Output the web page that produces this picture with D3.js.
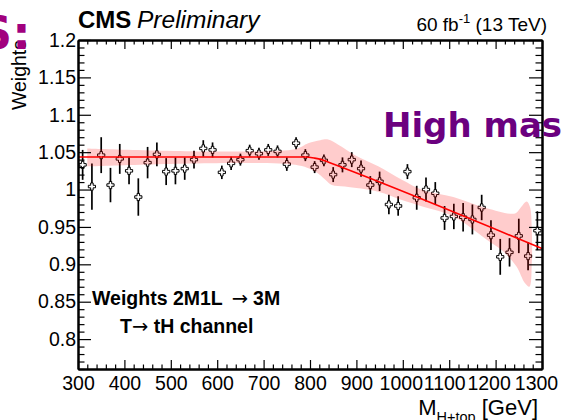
<!DOCTYPE html>
<html>
<head>
<meta charset="utf-8">
<script src="https://cdn.jsdelivr.net/npm/d3@7/dist/d3.min.js"></script>
<style>
  html, body { margin: 0; padding: 0; background: #fff; }
  svg { display: block; }
</style>
</head>
<body>
<svg id="chart" width="563" height="420"></svg>
<script>
// ---------- data ----------
const massBins = [310,330,350,370,390,410,430,450,470,490,510,530,550,570,590,610,630,650,670,690,
                  710,730,750,770,790,810,830,850,870,890,910,930,950,970,990,1010,1030,1050,1070,1090,
                  1110,1130,1150,1170,1190,1210,1230,1250,1270,1290];
const weights = [1.033,1.004,1.046,1.006,1.041,1.025,0.990,1.036,1.047,1.024,
                 1.025,1.028,1.040,1.055,1.053,1.023,1.035,1.040,1.052,1.048,
                 1.053,1.051,1.034,1.062,1.046,1.030,1.039,1.020,1.033,1.040,
                 1.028,1.006,1.011,0.980,0.978,1.024,0.989,1.000,0.995,0.962,
                 0.964,0.963,0.960,0.976,0.939,0.910,0.916,0.938,0.911,0.945];
const weightErrors = [0.020,0.031,0.024,0.023,0.020,0.018,0.025,0.021,0.016,0.018,
                      0.018,0.015,0.012,0.011,0.010,0.009,0.009,0.008,0.008,0.008,
                      0.008,0.008,0.009,0.008,0.008,0.008,0.008,0.010,0.010,0.010,
                      0.011,0.012,0.013,0.013,0.013,0.010,0.016,0.016,0.015,0.016,
                      0.017,0.019,0.020,0.017,0.020,0.024,0.019,0.023,0.019,0.026];
// fit curve
const fitMass = [300, 790, 810, 825, 840, 1300];
const fitWeight = [1.0435, 1.0435, 1.042, 1.040, 1.0365, 0.921];
// uncertainty band edges
const bandUpMass = [320, 767, 796, 822, 839, 861, 897, 947, 998, 1044, 1109, 1181, 1242, 1253, 1267, 1274, 1278, 1278, 1273];
const bandUpWeight = [1.055,1.054,1.062,1.066,1.067,1.060,1.046,1.031,1.013,0.999,0.990,0.975,0.968,0.975,0.984,0.977,0.946,0.901,0.870];
const bandLoMass = [320, 768, 811, 833, 847, 875, 947, 998, 1044, 1109, 1181, 1217, 1245, 1263];
const bandLoWeight = [1.031,1.033,1.024,1.013,1.006,1.004,0.997,0.986,0.977,0.964,0.933,0.917,0.897,0.875];
// axis ticks
const xMajorTicks = [300,400,500,600,700,800,900,1000,1100,1200,1300];
const xTickLabels = ["300","400","500","600","700","800","900","1000","1100","1200","1300"];
const yMajorTicks = [0.8,0.85,0.9,0.95,1.0,1.05,1.1,1.15,1.2];
const yTickLabels = ["0.8","0.85","0.9","0.95","1","1.05","1.1","1.15","1.2"];

// ---------- layout ----------
const SANS = "'Liberation Sans', Arial, Helvetica, sans-serif";
const VERD = "'DejaVu Sans', Verdana, sans-serif";
const L = 78, R = 542, T = 40, B = 369;
const svg = d3.select("#chart").style("font-family", SANS);
const x = d3.scaleLinear().domain([300, 1300]).range([L, R]);
const y = d3.scaleLinear().domain([0.76, 1.2]).range([B, T]);

// minor ticks
const xMinor = d3.range(300, 1300.01, 20).filter(v => !xMajorTicks.includes(Math.round(v)));
const yMinor = d3.range(0, 45).map(i => +(0.76 + i * 0.01).toFixed(2)).filter(v => !yMajorTicks.some(m => Math.abs(m - v) < 1e-6));

// ---------- data points ----------
const pts = svg.append("g");
pts.selectAll("line.err").data(massBins).enter().append("line")
  .attr("x1", (d) => x(d)).attr("x2", (d) => x(d))
  .attr("y1", (d, i) => y(weights[i] - weightErrors[i]))
  .attr("y2", (d, i) => y(weights[i] + weightErrors[i]))
  .attr("stroke", "#000").attr("stroke-width", 1.7);
const a = 3.6, w = 1.25;
const cross = `M${-w},${-a}H${w}V${-w}H${a}V${w}H${w}V${a}H${-w}V${w}H${-a}V${-w}H${-w}Z`;
pts.selectAll("path.mk").data(massBins).enter().append("path")
  .attr("d", cross)
  .attr("transform", (d, i) => `translate(${x(d)},${y(weights[i])})`)
  .attr("fill", "#fff").attr("stroke", "#000").attr("stroke-width", 1);

// ---------- band ----------
const bandPts = bandUpMass.map((m, i) => [x(m), y(bandUpWeight[i])])
  .concat(bandLoMass.map((m, i) => [x(m), y(bandLoWeight[i])]).reverse());
svg.append("path")
  .attr("d", d3.line().curve(d3.curveCatmullRom.alpha(0.5))(bandPts) + "Z")
  .attr("fill", "#ff0000").attr("fill-opacity", 0.2).attr("stroke", "none");

// ---------- fit line ----------
svg.append("path")
  .attr("d", d3.line().curve(d3.curveMonotoneX)(fitMass.map((m, i) => [x(m), y(fitWeight[i])])))
  .attr("fill", "none").attr("stroke", "#ff0000").attr("stroke-width", 1.6);

// ---------- axes ----------
function styleAxis(g) {
  g.selectAll("path.domain").attr("stroke", "#000").attr("stroke-width", 2);
  g.selectAll(".tick line").attr("stroke", "#000").attr("stroke-width", 1.2);
  g.selectAll("text").style("font-family", SANS).style("font-size", "19.5px").attr("fill", "#000");
}
// label nudges reproducing the tight packing of the 4-digit labels
const xLabelShift = [0, 0, 0, 0, 0, 0, 0, -2, -5, -7, -6];
// bottom
svg.append("g").attr("transform", `translate(0,${B})`)
  .call(d3.axisBottom(x).tickValues(xMinor).tickSize(-4.5).tickSizeOuter(0).tickFormat(""))
  .call(styleAxis);
svg.append("g").attr("transform", `translate(0,${B})`)
  .call(d3.axisBottom(x).tickValues(xMajorTicks).tickSize(-9).tickSizeOuter(0).tickPadding(7)
    .tickFormat((d, i) => xTickLabels[i]))
  .call(styleAxis)
  .call(g => g.selectAll(".tick text").attr("dx", (d, i) => xLabelShift[i]));
// top
svg.append("g").attr("transform", `translate(0,${T})`)
  .call(d3.axisTop(x).tickValues(xMinor).tickSize(-4.5).tickSizeOuter(0).tickFormat(""))
  .call(styleAxis);
svg.append("g").attr("transform", `translate(0,${T})`)
  .call(d3.axisTop(x).tickValues(xMajorTicks).tickSize(-9).tickSizeOuter(0).tickFormat(""))
  .call(styleAxis);
// left
svg.append("g").attr("transform", `translate(${L},0)`)
  .call(d3.axisLeft(y).tickValues(yMinor).tickSize(-6.5).tickSizeOuter(0).tickFormat(""))
  .call(styleAxis);
svg.append("g").attr("transform", `translate(${L},0)`)
  .call(d3.axisLeft(y).tickValues(yMajorTicks).tickSize(-13).tickSizeOuter(0).tickPadding(2)
    .tickFormat((d, i) => yTickLabels[i]))
  .call(styleAxis);
// right
svg.append("g").attr("transform", `translate(${R},0)`)
  .call(d3.axisRight(y).tickValues(yMinor).tickSize(-6.5).tickSizeOuter(0).tickFormat(""))
  .call(styleAxis);
svg.append("g").attr("transform", `translate(${R},0)`)
  .call(d3.axisRight(y).tickValues(yMajorTicks).tickSize(-13).tickSizeOuter(0).tickFormat(""))
  .call(styleAxis);

// ---------- titles ----------
const xt = svg.append("text").attr("x", 538).attr("y", 415).attr("text-anchor", "end").style("font-size", "22px");
xt.append("tspan").text("M");
xt.append("tspan").style("font-size", "14.5px").attr("dy", 7).text("H+top");
xt.append("tspan").attr("dy", -7).text(" [GeV]");

svg.append("text").attr("transform", "translate(26,40) rotate(-90)")
  .attr("text-anchor", "end").style("font-size", "19.5px").text("Weights");

svg.append("text").attr("x", 78).attr("y", 28).style("font-size", "24px").style("font-weight", "bold").text("CMS");
svg.append("text").attr("x", 137).attr("y", 28).style("font-size", "24.5px").style("font-style", "italic").text("Preliminary");

const lum = svg.append("text").attr("x", 547).attr("y", 31).attr("text-anchor", "end").style("font-size", "19px");
lum.append("tspan").text("60 fb");
lum.append("tspan").style("font-size", "13px").attr("dy", -8).text("-1");
lum.append("tspan").attr("dy", 8).text(" (13 TeV)");

// annotations
const t1 = svg.append("text").attr("x", 92).attr("y", 305).style("font-size", "19.5px").style("font-weight", "bold");
t1.append("tspan").text("Weights 2M1L");
t1.append("tspan").style("font-weight", "normal").style("font-family", VERD).attr("dx", 9).text("\u2192");
t1.append("tspan").attr("dx", 5).text("3M");
const t2 = svg.append("text").attr("x", 120).attr("y", 333).style("font-size", "19.5px").style("font-weight", "bold");
t2.append("tspan").text("T");
t2.append("tspan").style("font-weight", "normal").style("font-family", VERD).text("\u2192");
t2.append("tspan").text(" tH channel");

// overlaid slide text fragments
svg.append("text").attr("x", 383).attr("y", 137).style("font-family", VERD).style("font-weight", "bold")
  .style("font-size", "34px").attr("fill", "#6b007f").text("High mass");
svg.append("text").attr("x", -21).attr("y", 49).style("font-family", VERD).style("font-weight", "bold")
  .style("font-size", "46px").attr("fill", "#a1007e").text("S:");
</script>
</body>
</html>
